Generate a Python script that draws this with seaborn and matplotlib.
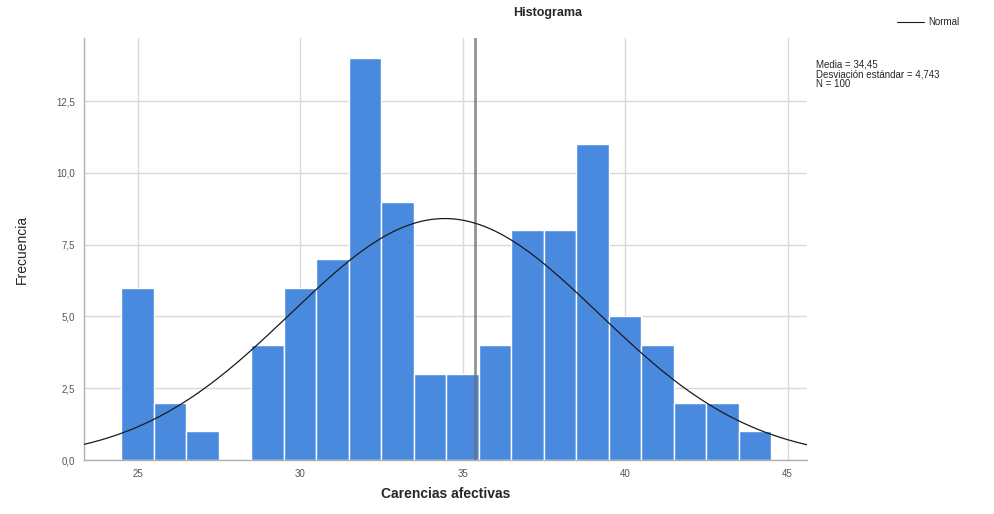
import numpy as np
import matplotlib
matplotlib.use("Agg")
import matplotlib.pyplot as plt
import seaborn as sns

# ==========================================
# Data
# ==========================================

scores = [25, 26, 27, 28, 29, 30, 31, 32, 33, 34,
          35, 36, 37, 38, 39, 40, 41, 42, 43, 44]
counts = [6, 2, 1, 0, 4, 6, 7, 14, 9, 3,
          3, 4, 8, 8, 11, 5, 4, 2, 2, 1]
ref_line = [35.37]
x_ticks = [25, 30, 35, 40, 45]
y_ticks = [0.0, 2.5, 5.0, 7.5, 10.0, 12.5]

# ==========================================
# Stats for the normal curve
# ==========================================

x = np.array(scores, dtype=float)
w = np.array(counts, dtype=float)
n = int(w.sum())
mean = (x * w).sum() / n
sd = np.sqrt((w * (x - mean) ** 2).sum() / (n - 1))

# ==========================================
# Plot
# ==========================================

sns.set_style("white")
plt.rcParams["font.family"] = ["Liberation Sans", "DejaVu Sans"]

fig = plt.figure(figsize=(9.94, 5.14), dpi=100)
ax = fig.add_axes([0.0845, 0.105, 0.7275, 0.821])

sns.histplot(x=x, weights=w, discrete=True, ax=ax,
             color="#4a8ade", alpha=1, edgecolor="white", linewidth=1.0,
             zorder=2)

xs = np.linspace(23.3, 45.6, 300)
ys = n * np.exp(-0.5 * ((xs - mean) / sd) ** 2) / (sd * np.sqrt(2 * np.pi))
ax.plot(xs, ys, color="#1a1a1a", linewidth=0.9, zorder=4, label="Normal")

for v in ref_line:
    ax.axvline(v, color="#6e6e6e", linewidth=2.0, alpha=0.75, zorder=3)

ax.set_xlim(23.35, 45.6)
ax.set_ylim(0, 14.7)
ax.set_xticks(x_ticks)
ax.set_xticklabels([str(t) for t in x_ticks])
ax.set_yticks(y_ticks)
ax.set_yticklabels([f"{t:.1f}".replace(".", ",") for t in y_ticks])
ax.tick_params(labelsize=7, colors="#555555", length=3, width=0.6)
ax.grid(True, color="#d9d9d9", linewidth=1.0, zorder=0)
ax.set_axisbelow(True)

sns.despine(ax=ax)
for side in ["left", "bottom"]:
    ax.spines[side].set_color("#b0b0b0")
    ax.spines[side].set_linewidth(1.0)

ax.set_xlabel("Carencias afectivas", fontsize=10, fontweight="bold",
              labelpad=6)
ax.set_ylabel("Frecuencia", fontsize=10, labelpad=20)

fig.text(0.551, 0.974, "Histograma", ha="center", va="center",
         fontsize=9, fontweight="bold")

# legend line + stats box
fig.lines.append(plt.Line2D([0.902, 0.930], [0.957, 0.957],
                            transform=fig.transFigure,
                            color="#1a1a1a", linewidth=0.8))
fig.text(0.934, 0.957, "Normal", ha="left", va="center", fontsize=7)

stats = (f"Media = {mean:.2f}\n"
         f"Desviación estándar = {sd:.3f}\n"
         f"N = {n}").replace(".", ",")
fig.text(0.821, 0.885, stats, ha="left", va="top", fontsize=7,
         linespacing=1.0)

plt.savefig("out.png", dpi=100)
plt.close()
